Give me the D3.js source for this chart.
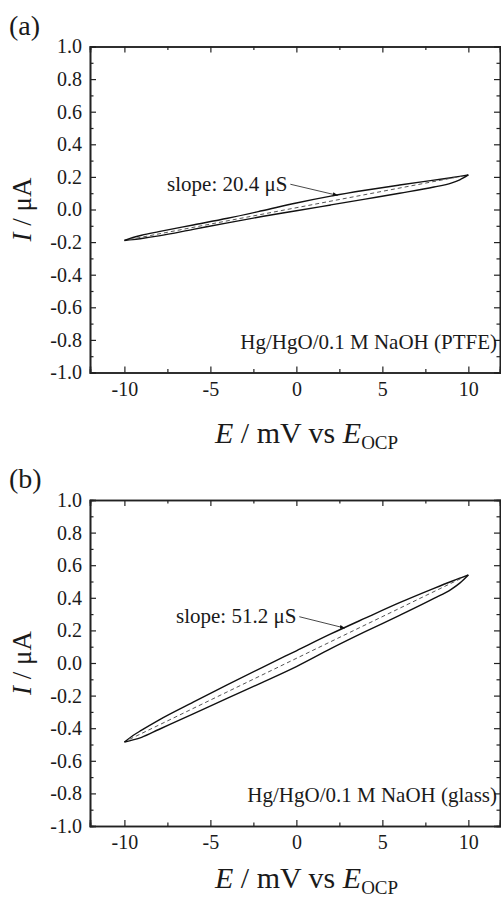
<!DOCTYPE html>
<html>
<head>
<meta charset="utf-8">
<script src="https://cdn.jsdelivr.net/npm/d3@7"></script>
<style>
  body { margin: 0; background: #fff; }
  svg { display: block; }
  text { font-family: "Liberation Serif", "Times New Roman", serif; fill: #1a1a1a; }
</style>
</head>
<body>
<svg id="chart" width="501" height="897"></svg>
<script>
// --- data ---
const xMajorTicks = [-10, -5, 0, 5, 10];
const xMinorTicks = [-7.5, -2.5, 2.5, 7.5];
const yMajorTicks = [-1.0, -0.8, -0.6, -0.4, -0.2, 0.0, 0.2, 0.4, 0.6, 0.8, 1.0];
const yMinorTicks = [-0.9, -0.7, -0.5, -0.3, -0.1, 0.1, 0.3, 0.5, 0.7, 0.9];

// potential (mV vs OCP) at which the branches were read
const potential = [-10, -9.5, -9, -8, -6, -4, -2, 0, 2, 4, 6, 8, 9, 9.5, 10];

// (a) PTFE, current in uA
const upperA = [-0.19, -0.172, -0.158, -0.136, -0.095, -0.054, -0.008, 0.04, 0.082, 0.118, 0.15, 0.18, 0.195, 0.203, 0.212];
const lowerA = [-0.19, -0.185, -0.178, -0.162, -0.122, -0.082, -0.043, -0.008, 0.028, 0.064, 0.1, 0.138, 0.162, 0.182, 0.212];
const fitA = [[-9.7, -0.184], [9.6, 0.204]];

// (b) glass, current in uA
const upperB = [-0.485, -0.445, -0.412, -0.35, -0.24, -0.133, -0.028, 0.075, 0.178, 0.275, 0.37, 0.458, 0.5, 0.52, 0.54];
const lowerB = [-0.485, -0.472, -0.456, -0.408, -0.312, -0.215, -0.12, -0.022, 0.088, 0.192, 0.292, 0.396, 0.452, 0.49, 0.54];
const fitB = [[-9.7, -0.468], [9.6, 0.52]];

const panels = [
  { tag: '(a)', upper: upperA, lower: lowerA, fit: fitA,
    slope: 'slope: 20.4 μS', electrode: 'Hg/HgO/0.1 M NaOH (PTFE)',
    textAt: [-0.52, 0.112], leadFrom: [-0.35, 0.155], leadTo: [2.38, 0.087] },
  { tag: '(b)', upper: upperB, lower: lowerB, fit: fitB,
    slope: 'slope: 51.2 μS', electrode: 'Hg/HgO/0.1 M NaOH (glass)',
    textAt: [0.0, 0.247], leadFrom: [0.17, 0.284], leadTo: [2.79, 0.215] }
];

// --- layout ---
const frameLeft = 90, frameRight = 500;
const frameTops = [46.5, 500];
const frameH = 326;
const titleBaselines = [443, 888];

// plain hyphen for negatives, as in the original figure
const fmtX = function(d) { return d3.format('d')(d).replace('−', '-'); };
const fmtY = function(d) { return d3.format('.1f')(d).replace('−', '-'); };

const svg = d3.select('#chart');

svg.append('defs').append('marker')
    .attr('id', 'dot')
    .attr('viewBox', '0 0 6 6')
    .attr('refX', 5).attr('refY', 3)
    .attr('markerWidth', 6).attr('markerHeight', 6)
    .attr('orient', 'auto')
  .append('path')
    .attr('d', 'M0,0.8 L6,3 L0,5.2 Z')
    .attr('fill', '#111');

panels.forEach(function(p, i) {
  let top = frameTops[i];
  let x = d3.scaleLinear().domain([-12, 11.84]).range([frameLeft, frameRight]);
  let y = d3.scaleLinear().domain([-1, 1]).range([top + frameH, top]);

  let g = svg.append('g');

  // axes, ticks pointing inward
  g.append('g')
    .attr('transform', 'translate(0,' + y(-1) + ')')
    .call(d3.axisBottom(x).tickValues(xMajorTicks).tickSize(-6).tickPadding(9).tickFormat(fmtX));
  g.append('g')
    .attr('transform', 'translate(0,' + y(-1) + ')')
    .call(d3.axisBottom(x).tickValues(xMinorTicks).tickSize(-3.5).tickFormat(''));
  g.append('g')
    .attr('transform', 'translate(0,' + y(1) + ')')
    .call(d3.axisTop(x).tickValues(xMajorTicks).tickSize(-6).tickFormat(''));
  g.append('g')
    .attr('transform', 'translate(0,' + y(1) + ')')
    .call(d3.axisTop(x).tickValues(xMinorTicks).tickSize(-3.5).tickFormat(''));

  g.append('g')
    .attr('transform', 'translate(' + frameLeft + ',0)')
    .call(d3.axisLeft(y).tickValues(yMajorTicks).tickSize(-6).tickPadding(8).tickFormat(fmtY));
  g.append('g')
    .attr('transform', 'translate(' + frameLeft + ',0)')
    .call(d3.axisLeft(y).tickValues(yMinorTicks).tickSize(-3.5).tickFormat(''));
  g.append('g')
    .attr('transform', 'translate(' + frameRight + ',0)')
    .call(d3.axisRight(y).tickValues(yMajorTicks).tickSize(-6).tickFormat(''));
  g.append('g')
    .attr('transform', 'translate(' + frameRight + ',0)')
    .call(d3.axisRight(y).tickValues(yMinorTicks).tickSize(-3.5).tickFormat(''));

  g.selectAll('.domain').attr('stroke', '#222').attr('stroke-width', 1.6);
  g.selectAll('.tick line').attr('stroke', '#222').attr('stroke-width', 1.2);
  g.selectAll('.tick text')
    .attr('font-family', '"Liberation Serif", serif')
    .attr('font-size', 20)
    .attr('fill', '#1a1a1a');

  // loop branches
  let line = d3.line()
    .x(function(d, k) { return x(potential[k]); })
    .y(function(d) { return y(d); })
    .curve(d3.curveMonotoneX);

  [p.upper, p.lower].forEach(function(branch) {
    g.append('path')
      .datum(branch)
      .attr('d', line)
      .attr('fill', 'none')
      .attr('stroke', '#111')
      .attr('stroke-width', 1.4);
  });

  // linear fit (dashed)
  g.append('path')
    .datum(p.fit)
    .attr('d', d3.line().x(function(d) { return x(d[0]); }).y(function(d) { return y(d[1]); }))
    .attr('fill', 'none')
    .attr('stroke', '#555')
    .attr('stroke-width', 1)
    .attr('stroke-dasharray', '4,3');

  // slope annotation
  g.append('text')
    .attr('x', x(p.textAt[0]))
    .attr('y', y(p.textAt[1]))
    .attr('text-anchor', 'end')
    .attr('font-size', 21)
    .text(p.slope);

  g.append('line')
    .attr('x1', x(p.leadFrom[0])).attr('y1', y(p.leadFrom[1]))
    .attr('x2', x(p.leadTo[0])).attr('y2', y(p.leadTo[1]))
    .attr('stroke', '#333')
    .attr('stroke-width', 0.9)
    .attr('marker-end', 'url(#dot)');

  // electrode label
  g.append('text')
    .attr('x', frameRight - 3)
    .attr('y', y(-1) - 24)
    .attr('text-anchor', 'end')
    .attr('font-size', 21)
    .text(p.electrode);

  // panel tag
  g.append('text')
    .attr('x', 9)
    .attr('y', top - 12)
    .attr('font-size', 28)
    .text(p.tag);

  // y title
  let yt = g.append('text')
    .attr('transform', 'translate(31,' + y(0) + ') rotate(-90)')
    .attr('text-anchor', 'middle')
    .attr('font-size', 27);
  yt.append('tspan').attr('font-style', 'italic').text('I');
  yt.append('tspan').text(' / μA');

  // x title
  let xt = g.append('text')
    .attr('x', 215)
    .attr('y', titleBaselines[i])
    .attr('font-size', 30);
  xt.append('tspan').attr('font-style', 'italic').text('E');
  xt.append('tspan').text(' / mV vs ');
  xt.append('tspan').attr('font-style', 'italic').text('E');
  xt.append('tspan').attr('font-size', 19).attr('dy', 6).text('OCP');
});
</script>
</body>
</html>
